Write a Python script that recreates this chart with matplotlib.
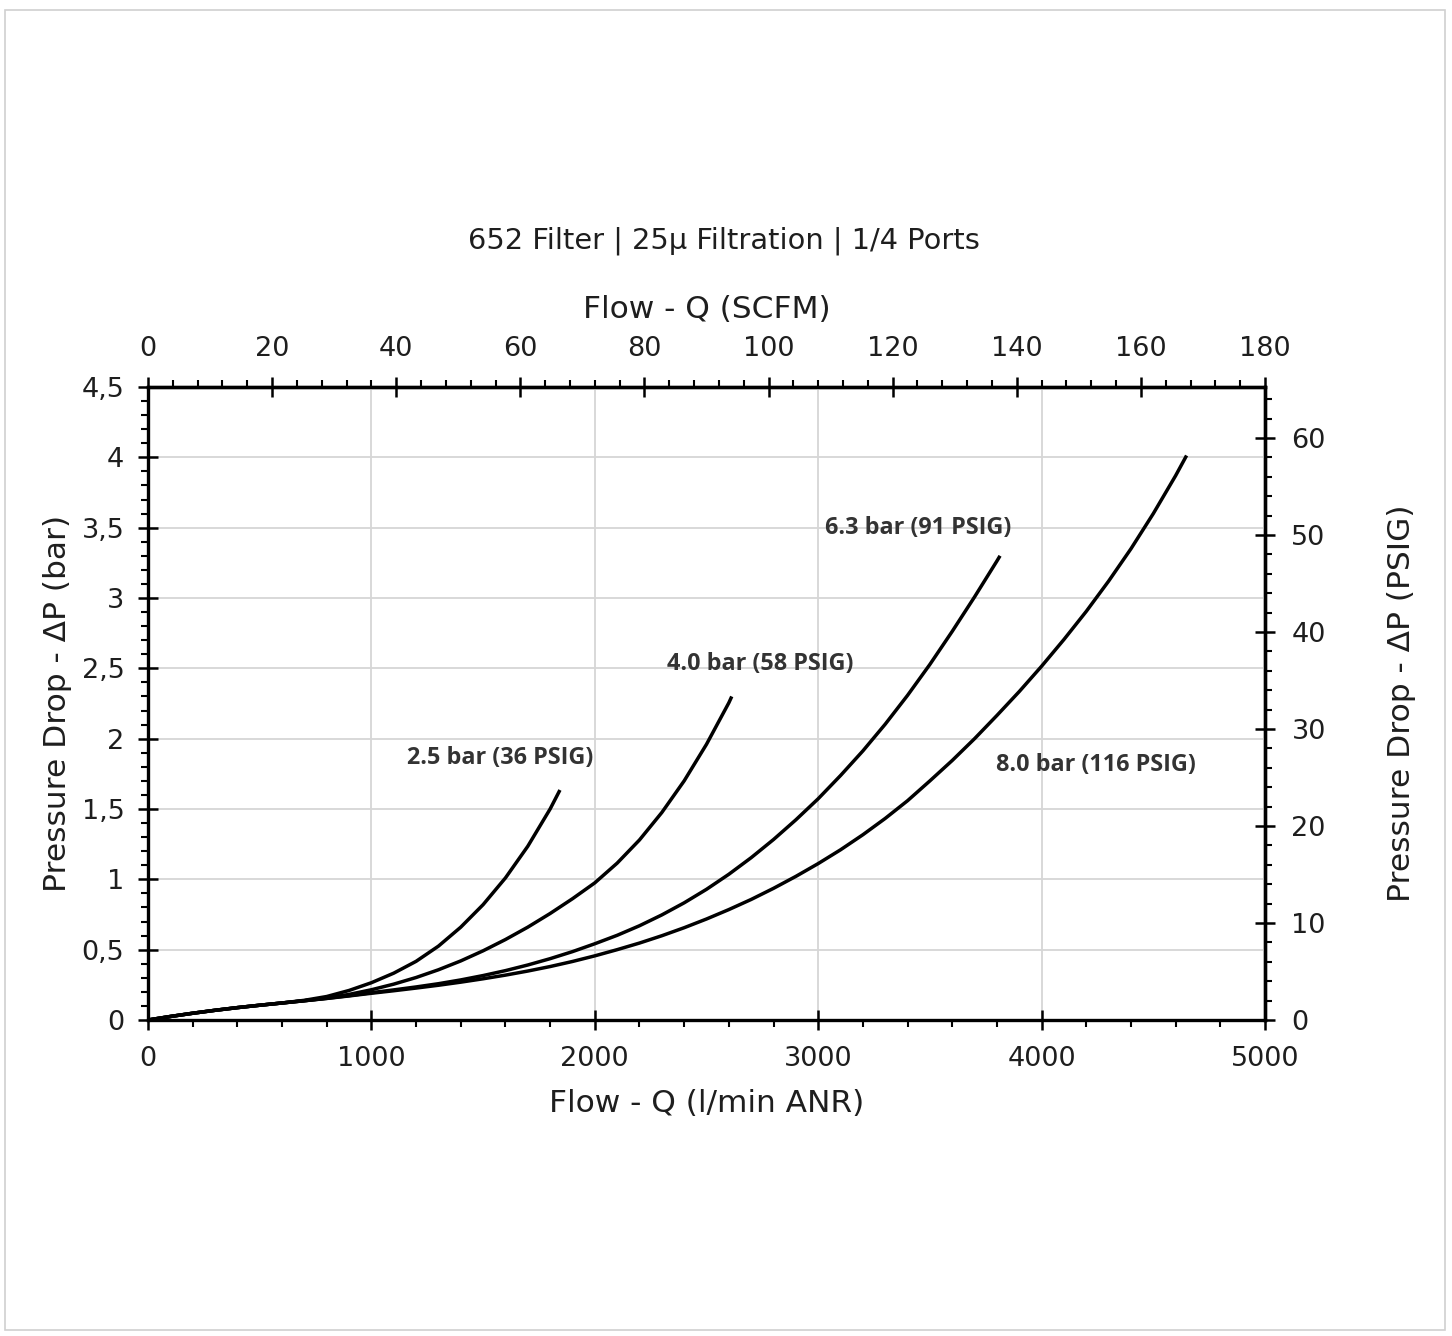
import matplotlib
matplotlib.use("Agg")
import matplotlib.pyplot as plt
from matplotlib.ticker import FixedLocator, MultipleLocator, FixedFormatter
from matplotlib.patches import Rectangle

# ---- data ----
flow_25 = [0, 100, 200, 300, 400, 500, 600, 700, 800, 900, 1000, 1100, 1200, 1300, 1400,
           1500, 1600, 1700, 1800, 1844]
dp_25 = [0, 0.025, 0.048, 0.069, 0.088, 0.105, 0.121, 0.14, 0.167, 0.21, 0.265, 0.333, 0.417,
         0.525, 0.66, 0.82, 1.01, 1.235, 1.50, 1.635]

flow_40 = [0, 100, 200, 300, 400, 500, 600, 700, 800, 900, 1000, 1100, 1200, 1300, 1400,
           1500, 1600, 1700, 1800, 1900, 2000, 2100, 2200, 2300, 2400, 2500, 2600, 2613]
dp_40 = [0, 0.025, 0.048, 0.069, 0.088, 0.105, 0.121, 0.137, 0.156, 0.182, 0.215, 0.255,
         0.302, 0.357, 0.42, 0.492, 0.572, 0.66, 0.757, 0.862, 0.975, 1.115, 1.28, 1.475,
         1.70, 1.96, 2.255, 2.30]

flow_63 = [0, 100, 200, 300, 400, 500, 600, 700, 800, 900, 1000, 1100, 1200, 1300, 1400,
           1500, 1600, 1700, 1800, 1900, 2000, 2100, 2200, 2300, 2400, 2500, 2600, 2700,
           2800, 2900, 3000, 3100, 3200, 3300, 3400, 3500, 3600, 3700, 3800, 3814]
dp_63 = [0, 0.025, 0.048, 0.069, 0.088, 0.105, 0.121, 0.137, 0.154, 0.173, 0.194, 0.214,
         0.235, 0.258, 0.285, 0.316, 0.351, 0.391, 0.436, 0.486, 0.542, 0.602, 0.67, 0.747,
         0.833, 0.929, 1.036, 1.154, 1.283, 1.423, 1.573, 1.738, 1.913, 2.103, 2.308, 2.528,
         2.763, 3.008, 3.263, 3.30]

flow_80 = [0, 100, 200, 300, 400, 500, 600, 700, 800, 900, 1000, 1100, 1200, 1300, 1400,
           1500, 1600, 1700, 1800, 1900, 2000, 2100, 2200, 2300, 2400, 2500, 2600, 2700,
           2800, 2900, 3000, 3100, 3200, 3300, 3400, 3500, 3600, 3700, 3800, 3900, 4000,
           4100, 4200, 4300, 4400, 4500, 4600, 4649]
dp_80 = [0, 0.025, 0.048, 0.069, 0.088, 0.105, 0.121, 0.137, 0.153, 0.171, 0.19, 0.208,
         0.227, 0.247, 0.269, 0.293, 0.319, 0.348, 0.38, 0.416, 0.456, 0.50, 0.547, 0.599,
         0.656, 0.718, 0.785, 0.857, 0.936, 1.021, 1.112, 1.21, 1.317, 1.433, 1.559, 1.70,
         1.845, 2.00, 2.165, 2.335, 2.515, 2.705, 2.905, 3.12, 3.35, 3.60, 3.87, 4.013]

series_labels = ["2.5 bar (36 PSIG)", "4.0 bar (58 PSIG)", "6.3 bar (91 PSIG)", "8.0 bar (116 PSIG)"]
label_pos_flow = [1575, 2740, 3447, 4244]
label_pos_dp = [1.86, 2.53, 3.50, 1.81]

left_ticks = [0, 0.5, 1, 1.5, 2, 2.5, 3, 3.5, 4, 4.5]
left_tick_labels = ["0", "0,5", "1", "1,5", "2", "2,5", "3", "3,5", "4", "4,5"]
bottom_ticks = [0, 1000, 2000, 3000, 4000, 5000]
top_ticks = [0, 20, 40, 60, 80, 100, 120, 140, 160, 180]
right_ticks = [0, 10, 20, 30, 40, 50, 60]

title = "652 Filter | 25µ Filtration | 1/4 Ports"
FLOW_MAX = 5000
SCFM_MAX = 180
DP_MAX = 4.5
BAR_TO_PSI = 14.5038

# ---- figure ----
plt.rcParams['font.family'] = ['DejaVu Sans']
TXT = '#1e1e1e'
fig = plt.figure(figsize=(14.52, 13.36), dpi=100)
fig.patches.append(Rectangle((5 / 1452, 6 / 1336), 1440 / 1452, 1320 / 1336,
                             transform=fig.transFigure, fill=False,
                             edgecolor='#d0d0d0', linewidth=1.2))

ax = fig.add_axes([148 / 1452, 1 - 1020 / 1336, (1265 - 148) / 1452, (1020 - 387) / 1336])

for f, d in [(flow_25, dp_25), (flow_40, dp_40), (flow_63, dp_63), (flow_80, dp_80)]:
    ax.plot(f, d, color='black', linewidth=2.5, solid_capstyle='butt',
            solid_joinstyle='round', zorder=3)

for lab, lx, ly in zip(series_labels, label_pos_flow, label_pos_dp):
    ax.text(lx, ly, lab, ha='center', va='center', fontsize=16.8, color='#333333',
            fontweight='bold', family=['Open Sans', 'DejaVu Sans'], zorder=4)

ax.set_xlim(0, FLOW_MAX)
ax.set_ylim(0, DP_MAX)

ax.xaxis.set_major_locator(FixedLocator(bottom_ticks))
ax.xaxis.set_minor_locator(MultipleLocator(200))
ax.yaxis.set_major_locator(FixedLocator(left_ticks))
ax.yaxis.set_major_formatter(FixedFormatter(left_tick_labels))
ax.yaxis.set_minor_locator(MultipleLocator(0.1))

ax.grid(True, which='major', color='#d6d6d6', linewidth=1.3, zorder=0)
ax.set_axisbelow(True)

for s in ax.spines.values():
    s.set_linewidth(2.4)

ax.tick_params(which='major', direction='inout', length=14, width=1.8, labelsize=19.5,
               labelcolor=TXT)
ax.tick_params(which='minor', direction='out', length=5, width=1.5)
ax.tick_params(axis='x', which='major', pad=12)
ax.tick_params(axis='y', which='major', pad=10)

ax.set_xlabel("Flow - Q (l/min ANR)", fontsize=22.5, labelpad=12, color=TXT)
ax.set_ylabel("Pressure Drop - ΔP (bar)", fontsize=22.5, labelpad=7, color=TXT)

# top axis SCFM
secx = ax.secondary_xaxis('top', functions=(lambda q: q * SCFM_MAX / FLOW_MAX,
                                            lambda s: s * FLOW_MAX / SCFM_MAX))
secx.xaxis.set_major_locator(FixedLocator(top_ticks))
secx.xaxis.set_minor_locator(MultipleLocator(4))
secx.tick_params(which='major', direction='inout', length=14, width=1.8, labelsize=19.5,
                 pad=11, labelcolor=TXT)
secx.tick_params(which='minor', direction='out', length=5, width=1.5)
secx.spines['top'].set_linewidth(2.4)
secx.set_xlabel("Flow - Q (SCFM)", fontsize=22.5, labelpad=13, color=TXT)

# right axis PSIG
secy = ax.secondary_yaxis('right', functions=(lambda b: b * BAR_TO_PSI,
                                              lambda p: p / BAR_TO_PSI))
secy.yaxis.set_major_locator(FixedLocator(right_ticks))
secy.yaxis.set_minor_locator(MultipleLocator(2))
secy.tick_params(which='major', direction='inout', length=14, width=1.8, labelsize=19.5,
                 pad=12, labelcolor=TXT)
secy.tick_params(which='minor', direction='out', length=5, width=1.5)
secy.spines['right'].set_linewidth(2.4)
secy.set_ylabel("Pressure Drop - ΔP (PSIG)", fontsize=22.5, labelpad=44, color=TXT)

fig.text((465 + 982) / 2 / 1452, 1 - 241 / 1336, title, ha='center', va='center',
         fontsize=20.8, color=TXT)

fig.savefig("out.png", dpi=100, facecolor='white')
